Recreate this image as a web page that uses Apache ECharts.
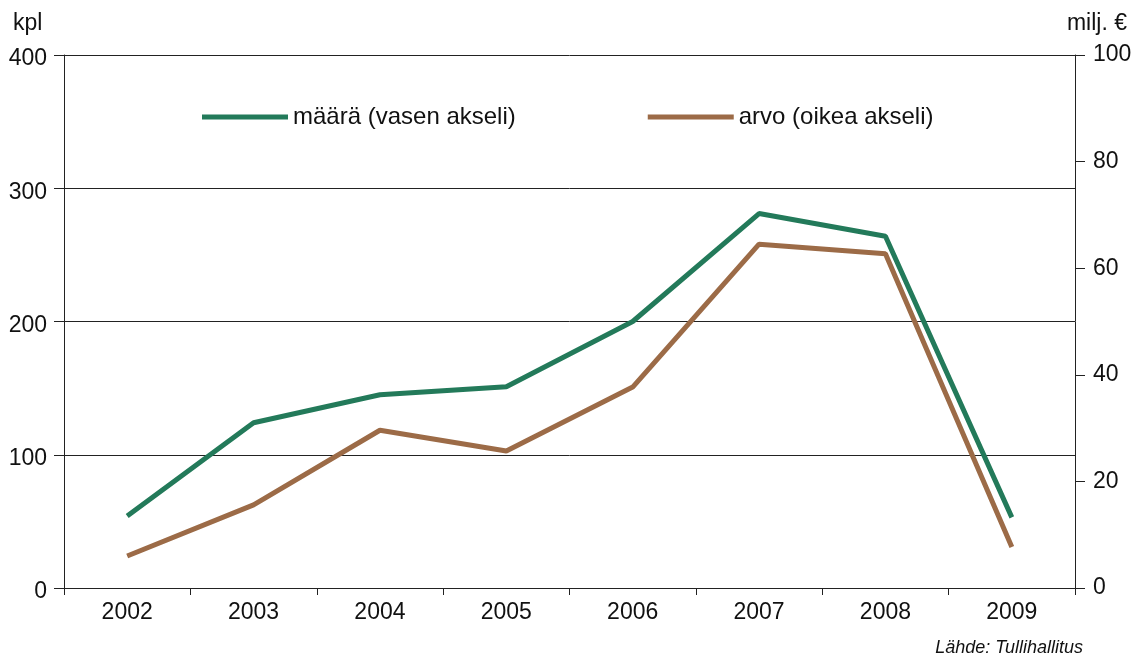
<!DOCTYPE html>
<html>
<head>
<meta charset="utf-8">
<script src="https://cdn.jsdelivr.net/npm/echarts@6/dist/echarts.min.js"></script>
<style>
html, body { margin: 0; padding: 0; background: #fff; }
#main { width: 1135px; height: 656px; }
</style>
</head>
<body>
<div id="main"></div>
<script>
// vuodet ja arvot luettu kuvasta
var years = ['2002', '2003', '2004', '2005', '2006', '2007', '2008', '2009'];
var maara = [54, 124, 145, 151, 200, 281, 264, 53];          // kpl
var arvo = [6.0, 15.6, 29.6, 25.7, 37.7, 64.5, 62.7, 7.7];    // milj. €

var font = 'Liberation Sans, Arial, sans-serif';

var myChart = echarts.init(document.getElementById('main'));

var option = {
    animation: false,
    textStyle: { fontFamily: font },
    grid: { left: 64, right: 60, top: 55, bottom: 68, containLabel: false },
    legend: {
        left: 197,
        top: 100,
        itemWidth: 86,
        itemHeight: 5,
        itemGap: 132,
        icon: 'rect',
        textStyle: { fontSize: 24, color: '#111', fontFamily: font },
        data: ['määrä (vasen akseli)', 'arvo (oikea akseli)']
    },
    xAxis: {
        type: 'category',
        data: years,
        boundaryGap: true,
        axisLine: { lineStyle: { color: '#222', width: 1 } },
        axisTick: { show: true, length: 7, interval: 0, lineStyle: { color: '#222' } },
        axisLabel: { fontSize: 23, color: '#111', margin: 13, fontFamily: font }
    },
    yAxis: [
        {
            type: 'value',
            min: 0, max: 400, interval: 100,
            axisLine: { show: true, lineStyle: { color: '#222', width: 1 } },
            axisTick: { show: true, length: 10, lineStyle: { color: '#222' } },
            axisLabel: {
                margin: 17,
                formatter: function (v) { return '{a|' + v + '}'; },
                rich: { a: { fontSize: 23, color: '#111', fontFamily: font, padding: [8, 0, 0, 0] } }
            },
            splitLine: { lineStyle: { color: '#222', width: 1 } }
        },
        {
            type: 'value',
            min: 0, max: 100, interval: 20,
            position: 'right',
            axisLine: { show: true, lineStyle: { color: '#222', width: 1 } },
            axisTick: { show: true, length: 10, lineStyle: { color: '#222' } },
            axisLabel: { fontSize: 23, color: '#111', margin: 18, fontFamily: font },
            splitLine: { show: false }
        }
    ],
    graphic: [
        { type: 'text', left: 13, top: 12, style: { text: 'kpl', fontSize: 23, fill: '#111', fontFamily: font } },
        { type: 'text', right: 8, top: 12, style: { text: 'milj. €', fontSize: 23, fill: '#111', fontFamily: font } },
        { type: 'text', right: 52, top: 639, style: { text: 'Lähde: Tullihallitus', fontSize: 18, fontStyle: 'italic', fill: '#111', fontFamily: font } }
    ],
    series: [
        {
            name: 'määrä (vasen akseli)',
            type: 'line',
            yAxisIndex: 0,
            data: maara,
            symbol: 'none',
            color: '#237a5a',
            lineStyle: { width: 5, color: '#237a5a' }
        },
        {
            name: 'arvo (oikea akseli)',
            type: 'line',
            yAxisIndex: 1,
            data: arvo,
            symbol: 'none',
            color: '#9c6b47',
            lineStyle: { width: 5, color: '#9c6b47' }
        }
    ]
};

myChart.setOption(option);
</script>
</body>
</html>
